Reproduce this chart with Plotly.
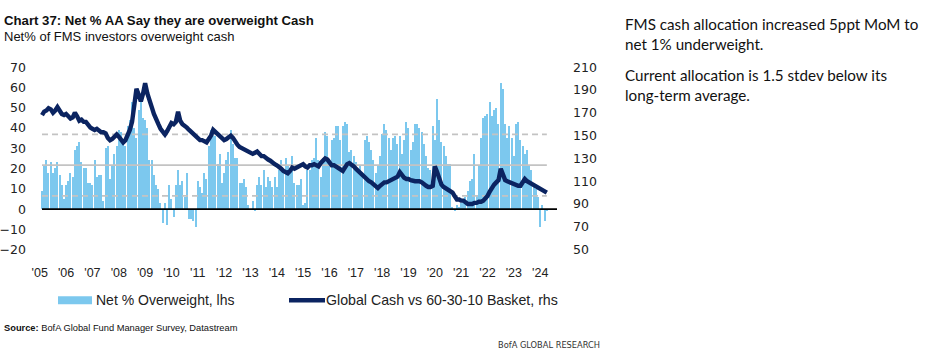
import plotly.graph_objects as go
import pandas as pd

# ---------------- data ----------------
dates = pd.date_range("2005-04-01", periods=231, freq="MS")

net_overweight = [
    9, 21, 24, 18, 23, 18, 20, 23, 17, 12,
    5, 12, 14, 18, 16, 29, 31, 33, 23, 20,
    20, 13, 13, 12, 24, 16, 17, 17, 4, 30,
    31, 15, 21, 27, 31, 39, 38, 32, 31, 41,
    44, 53, 40, 35, 49, 53, 45, 44, 40, 24,
    24, 17, 12, 10, 3, -7, 3, -8, 12, 5,
    -4, 12, 19, 12, 14, 6, 18, -5, -5, -6,
    -9, 14, 11, 8, 18, 15, 31, 39, 40, 36,
    22, 27, 13, 18, 24, 28, 39, 32, 25, 25,
    13, 13, 15, 11, 2, 0, 4, -1, 12, 16,
    12, 19, 11, 16, 14, 11, 16, 11, 19, 24,
    19, 25, 21, 19,
    26, 13, 12, 12, 15, 2, 3, 19, 19, 24,
    25, 35, 24, 16, 25, 38, 36, 24, 34, 35,
    41, 41, 34, 41, 43, 42, 28, 29, 26, 23,
    18, 21, 17, 34, 36, 33, 29, 24, 18, 21,
    26, 37, 42, 39, 35, 29, 35, 36, 32, 36,
    27, 34, 43, 40, 29, 33, 42, 42,
    40, 38, 32, 26, 20, 19, 41, 34, 54, 44, 33, 31, 26, 22, 22,
    1, -1, 2, 1, 3, 5, 6, 9, 14, 15, 27, 7, 21,
    35, 45, 46, 47, 53, 46, 49, 50, 42,
    62, 59, 42, 35, 41, 35, 26, 42, 43, 34, 31, 27, 29, 21, 19, 11, 10, 6, -9, 2, -6, -1,
]

cash_vs_basket = [
    168, 171, 172, 174, 173, 170, 172, 175, 172, 169,
    168, 169, 167, 165, 166, 170, 167, 163, 164, 162,
    162, 159, 157, 156, 155, 156, 154, 153, 153, 152,
    148, 146, 147, 149, 151, 149, 146, 144, 146, 150,
    155, 162, 177, 191, 186, 180, 187, 196, 187, 182,
    175, 169, 163, 160, 156, 153, 151, 154, 159, 161,
    160, 162, 171, 163, 160, 159, 157, 155, 153, 151,
    149, 148, 146, 146, 145, 144, 147, 150, 155, 153,
    152, 149, 147, 146, 147, 149, 150, 148, 144, 142,
    140, 139, 137, 137, 136, 135, 134, 135, 136, 134,
    132, 132, 130, 129, 128, 127, 125, 124, 123, 121,
    119, 118, 117, 119, 122, 121, 122, 123, 124, 125,
    123, 122, 124, 124, 125, 124, 123, 126, 128, 130,
    129, 127, 124, 124, 123, 121, 120, 119, 122, 125,
    126, 125, 123, 121, 119, 117, 115, 113, 111, 110,
    109, 107, 105, 104, 106, 108, 109, 109, 110, 110,
    111, 112, 114, 118, 115, 113, 112, 112, 111, 110,
    110, 110, 110, 109, 107, 106, 105, 105, 106, 123,
    118, 111, 107, 105, 104, 103, 101, 100, 97, 94,
    94, 93, 93, 91, 90, 90, 90, 91, 91, 92,
    92, 93, 95, 97, 101, 105, 107, 109, 111, 121,
    115, 111, 110, 109, 109, 108, 107, 106, 106, 109,
    112, 110, 109, 107, 106, 105, 104, 104, 103, 102,
    100,
]

year_labels = ["'05", "'06", "'07", "'08", "'09", "'10", "'11", "'12", "'13", "'14",
               "'15", "'16", "'17", "'18", "'19", "'20", "'21", "'22", "'23", "'24"]
tick_dates = [f"20{lab[1:]}-03-01" for lab in year_labels]

avg_level = 21.7
std_level = 15.2

assert len(net_overweight) == len(dates) == len(cash_vs_basket)

# ---------------- geometry ----------------
W, H = 932, 361
# the captured page is slightly squeezed vertically; target positions are given
# in picture pixels and converted to figure pixels
SHIFT, SQUEEZE = 8.4, 0.95

def ry(p):
    return (p - SHIFT) / SQUEEZE

PL, PR = 32, 557
PT, PB = ry(67), ry(248)
FIRST_BAR_PX = 42
PX_PER_DAY = 2.195 / 30.44
x_start = dates[0] - pd.Timedelta(days=(FIRST_BAR_PX - PL) / PX_PER_DAY)
x_end = dates[0] + pd.Timedelta(days=(PR - FIRST_BAR_PX) / PX_PER_DAY)

def fx(p):
    return p / W

def fy(p):
    return 1 - ry(p) / H

BAR_COLOR = "#7cc8ee"
LINE_COLOR = "#0b2461"
SANS = "Liberation Sans, Arial, sans-serif"
COND = "DejaVu Sans Condensed, Liberation Sans, sans-serif"

fig = go.Figure()
fig.add_bar(x=dates, y=net_overweight, marker=dict(color=BAR_COLOR, line=dict(width=0)),
            width=16 * 86400000, yaxis="y", showlegend=False, hoverinfo="skip")
for lvl, dash in [(avg_level, "solid"), (avg_level + std_level, "6px,4px"), (avg_level - std_level, "6px,4px")]:
    fig.add_scatter(x=[dates[0], dates[-1]], y=[lvl, lvl], mode="lines", yaxis="y",
                    line=dict(color="#c3c3c3", width=1.7, dash=dash),
                    showlegend=False, hoverinfo="skip")
fig.add_scatter(x=dates, y=cash_vs_basket, yaxis="y2", mode="lines",
                line=dict(color=LINE_COLOR, width=4.4), showlegend=False, hoverinfo="skip")

shapes = [
    dict(type="line", xref="x", yref="y", x0=dates[0], x1=x_end, y0=0, y1=0,
         line=dict(color="black", width=1.6), layer="above"),
    # legend swatches
    dict(type="rect", xref="paper", yref="paper", x0=fx(58), x1=fx(92), y0=fy(302), y1=fy(294),
         fillcolor=BAR_COLOR, line=dict(width=0)),
    dict(type="line", xref="paper", yref="paper", x0=fx(289), x1=fx(325), y0=fy(298), y1=fy(298),
         line=dict(color=LINE_COLOR, width=4.4)),
]

ann = []
def add_text(txt, x, y, size, family, color="#111", xanchor="left"):
    ann.append(dict(text=txt, x=fx(x), y=fy(y), xref="paper", yref="paper",
                    xanchor=xanchor, yanchor="middle", showarrow=False, borderpad=0,
                    font=dict(size=size, family=family, color=color)))

add_text("<b>Chart 37: Net % AA Say they are overweight Cash</b>", 3, 20.5, 13.2, SANS)
add_text("Net% of FMS investors overweight cash", 3, 37, 13, SANS)
add_text("Net % Overweight, lhs", 95, 298, 14, SANS, "#222")
add_text("Global Cash vs 60-30-10 Basket, rhs", 325, 298, 14.2, SANS, "#222")
add_text("<b>Source:</b> BofA Global Fund Manager Survey, Datastream", 3, 326, 9.3, SANS)
add_text("BofA GLOBAL RESEARCH", 497, 342, 9.2, COND, "#333")
add_text("FMS cash allocation increased 5ppt MoM to", 624, 24.3, 15.2, "Lato")
add_text("net 1% underweight.", 624, 44, 15.2, "Lato")
add_text("Current allocation is 1.5 stdev below its", 624, 74.8, 15.2, "Lato")
add_text("long-term average.", 624, 94.8, 15.2, "Lato")

fig.update_layout(
    width=W, height=H, autosize=False,
    margin=dict(l=0, r=0, t=0, b=0),
    paper_bgcolor="white", plot_bgcolor="white",
    showlegend=False, bargap=0,
    shapes=shapes, annotations=ann,
    xaxis=dict(domain=[fx(PL), fx(PR)], type="date", range=[x_start, x_end],
               tickmode="array", tickvals=tick_dates, ticktext=year_labels,
               ticks="", showgrid=False, zeroline=False, showline=False,
               tickfont=dict(family=SANS, size=12.5, color="#222"),
               ticklabelstandoff=14),
    yaxis=dict(domain=[1 - PB / H, 1 - PT / H], range=[-20.02, 70.02], tick0=0, dtick=10,
               ticks="", showgrid=False, zeroline=False, showline=False,
               tickfont=dict(family="DejaVu Sans", size=12.5, color="#222"),
               ticklabelstandoff=5),
    yaxis2=dict(overlaying="y", side="right", range=[49.96, 210.04], tick0=50, dtick=20,
                ticks="", showgrid=False, zeroline=False, showline=False,
                tickfont=dict(family="DejaVu Sans", size=12.5, color="#222"),
                ticklabelstandoff=15),
)

fig.write_html(
    "out.html",
    config={"displayModeBar": False},
    post_script=(
        "var d=document.getElementById('{plot_id}');"
        "d.style.position='absolute';d.style.top='0px';d.style.left='0px';"
        "document.body.style.margin='0';document.documentElement.style.overflow='hidden';"
    ),
)
